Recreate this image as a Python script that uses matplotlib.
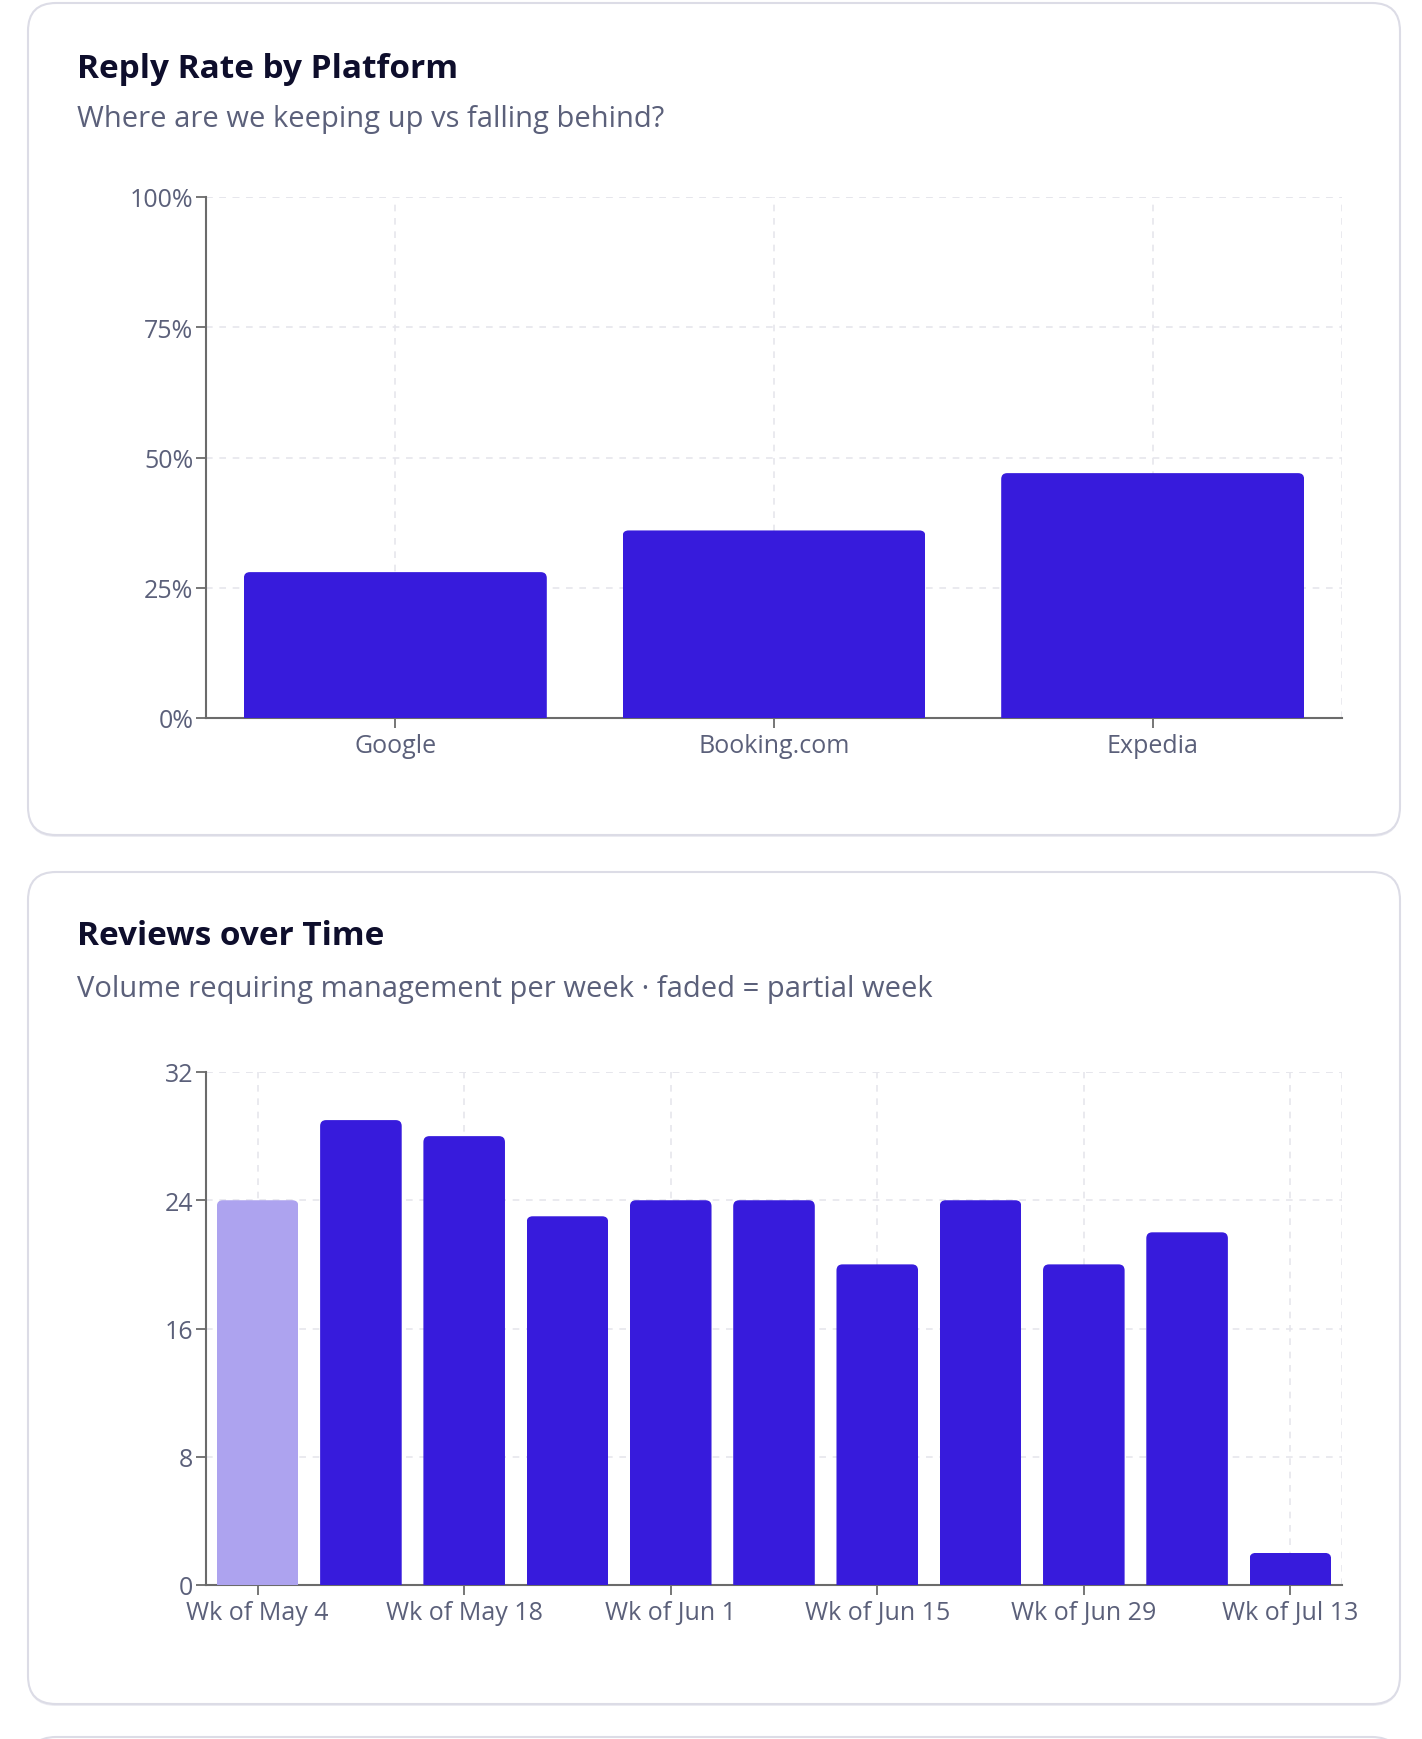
import matplotlib
matplotlib.use("Agg")
import matplotlib.pyplot as plt
from matplotlib.patches import FancyBboxPatch
from matplotlib.ticker import FuncFormatter

# --- data ---
platforms = ["Google", "Booking.com", "Expedia"]
reply_rate = [28, 36, 47]
rate_ticks = [0, 25, 50, 75, 100]

weeks = ["Wk of May 4", "Wk of May 11", "Wk of May 18", "Wk of May 25",
         "Wk of Jun 1", "Wk of Jun 8", "Wk of Jun 15", "Wk of Jun 22",
         "Wk of Jun 29", "Wk of Jul 6", "Wk of Jul 13"]
reviews = [24, 29, 28, 23, 24, 24, 20, 24, 20, 22, 2]
partial = [True, False, False, False, False, False, False, False, False, False, False]
review_ticks = [0, 8, 16, 24, 32]

BAR = "#371bdc"
BAR_FADED = "#ada3ef"
TITLE_C = "#0e0e2c"
SUB_C = "#5b607a"
AXIS_C = "#6b6b6b"
GRID_C = "#e6e6ec"

W, H = 1422, 1740
plt.rcParams["font.family"] = ["Open Sans", "DejaVu Sans"]

fig = plt.figure(figsize=(W / 100, H / 100), dpi=100, facecolor="white")

# background layer in pixel coordinates for the cards
bg = fig.add_axes([0, 0, 1, 1], zorder=0)
bg.set_xlim(0, W)
bg.set_ylim(H, 0)
bg.axis("off")


def card(x0, y0, x1, y1):
    shadow = FancyBboxPatch((x0, y0 + 2), x1 - x0, y1 - y0,
                            boxstyle="round,pad=0,rounding_size=28",
                            fc="#ececf2", ec="none")
    bg.add_patch(shadow)
    box = FancyBboxPatch((x0, y0), x1 - x0, y1 - y0,
                         boxstyle="round,pad=0,rounding_size=28",
                         fc="white", ec="#dcdce6", lw=1.5)
    bg.add_patch(box)


card(28, 4, 1400, 836)
card(28, 873, 1400, 1705)
card(28, 1738, 1400, 2400)


def px_axes(left, top, right, bottom):
    return fig.add_axes([left / W, 1 - bottom / H, (right - left) / W, (bottom - top) / H], zorder=2)


def style_axes(ax):
    for s in ["top", "right"]:
        ax.spines[s].set_visible(False)
    for s in ["left", "bottom"]:
        ax.spines[s].set_color(AXIS_C)
        ax.spines[s].set_linewidth(1.5)
    ax.tick_params(axis="both", colors=AXIS_C, length=7, width=1.3,
                   labelcolor=SUB_C, labelsize=18)
    ax.tick_params(axis="x", pad=4)
    ax.tick_params(axis="y", pad=2)
    ax.grid(True, color=GRID_C, linestyle=(0, (4, 4)), linewidth=1.2)
    ax.set_axisbelow(True)
    ax.patch.set_alpha(0)


def round_tops(ax, bars, radius_px=6):
    # clip each bar with a rounded box so only the top corners are rounded
    bbox = ax.get_window_extent()
    x0, x1 = ax.get_xlim()
    y0, y1 = ax.get_ylim()
    px_x = bbox.width / (x1 - x0)
    px_y = bbox.height / (y1 - y0)
    for b in bars:
        h = b.get_height()
        extra = 2 * radius_px / px_y
        clip = FancyBboxPatch((b.get_x(), -extra), b.get_width(), h + extra,
                              boxstyle=f"round,pad=0,rounding_size={radius_px / px_x}",
                              mutation_aspect=px_x / px_y,
                              transform=ax.transData)
        b.set_clip_path(clip)


# --- chart 1: reply rate ---
fig.text(77 / W, 1 - 69 / H, "Reply Rate by Platform", fontsize=24,
         fontweight="bold", color=TITLE_C, va="center")
fig.text(77 / W, 1 - 120 / H, "Where are we keeping up vs falling behind?",
         fontsize=21, color=SUB_C, va="center")

ax1 = px_axes(206, 198, 1342, 719)
ax1.set_xlim(-0.5, len(platforms) - 0.5)
ax1.set_ylim(0, 100)
bars1 = ax1.bar(range(len(platforms)), reply_rate, width=0.8, color=BAR, zorder=3)
ax1.set_yticks(rate_ticks)
ax1.yaxis.set_major_formatter(FuncFormatter(lambda v, p: f"{v:.0f}%"))
ax1.set_xticks(range(len(platforms)))
ax1.set_xticklabels(platforms)
style_axes(ax1)
ax1.axvline(len(platforms) - 0.5, color=GRID_C, linestyle=(0, (4, 4)), linewidth=1.2, zorder=1)
ax1.axhline(100, color=GRID_C, linestyle=(0, (4, 4)), linewidth=1.2, zorder=1)
round_tops(ax1, bars1)

# --- chart 2: reviews over time ---
fig.text(77 / W, 1 - 937 / H, "Reviews over Time", fontsize=24,
         fontweight="bold", color=TITLE_C, va="center")
fig.text(77 / W, 1 - 989 / H,
         "Volume requiring management per week \u00b7 faded = partial week",
         fontsize=21, color=SUB_C, va="center")

ax2 = px_axes(206, 1073, 1342, 1586)
ax2.set_xlim(-0.5, len(weeks) - 0.5)
ax2.set_ylim(0, 32)
colors = [BAR_FADED if p else BAR for p in partial]
bars2 = ax2.bar(range(len(weeks)), reviews, width=0.79, color=colors, zorder=3)
ax2.set_yticks(review_ticks)
ax2.set_xticks(range(0, len(weeks), 2))
ax2.set_xticklabels(weeks[::2])
style_axes(ax2)
ax2.axvline(len(weeks) - 0.5, color=GRID_C, linestyle=(0, (4, 4)), linewidth=1.2, zorder=1)
ax2.axhline(32, color=GRID_C, linestyle=(0, (4, 4)), linewidth=1.2, zorder=1)
round_tops(ax2, bars2)

fig.savefig("out.png", dpi=100, facecolor="white")
